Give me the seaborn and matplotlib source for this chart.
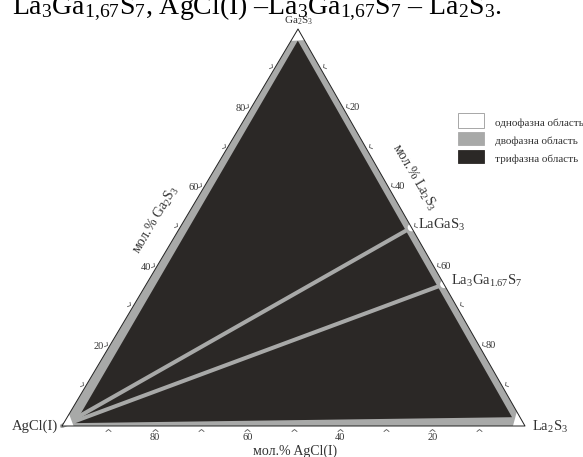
import numpy as np
import pandas as pd
import seaborn as sns
import matplotlib.pyplot as plt
from matplotlib.markers import MarkerStyle
from matplotlib.path import Path
from matplotlib.transforms import Affine2D
from matplotlib.patches import Rectangle

# compositions are mole fractions (AgCl(I), La2S3, Ga2S3)
corner_names = ["AgCl(I)", "La$_2$S$_3$", "Ga$_2$S$_3$"]
compound_names = ["LaGaS$_3$", "La$_3$Ga$_{1.67}$S$_7$"]
compound_la2s3 = [0.50, 0.643]          # on the Ga2S3 - La2S3 side

# three-phase field (black), corners
black_agcl = [0.974, 0.018, 0.018]
black_la2s3 = [0.016, 0.962, 0.020]
black_ga2s3 = [0.010, 0.020, 0.962]

# single-phase fields at the corners (white)
white_agcl = [(1, 0, 0), (0.975, 0.025, 0), (0.97, 0, 0.03)]
white_la2s3 = [(0, 1, 0), (0.026, 0.974, 0), (0, 0.964, 0.036)]
white_ga2s3 = [(0, 0, 1), (0.03, 0, 0.97), (0, 0.028, 0.972)]

tick_values = [10, 20, 30, 40, 50, 60, 70, 80, 90]
labelled_ticks = [20, 40, 60, 80]

legend_labels = ["однофазна область", "двофазна область", "трифазна область"]
title = "La$_3$Ga$_{1{,}67}$S$_7$, AgCl(I) –La$_3$Ga$_{1{,}67}$S$_7$ – La$_2$S$_3$."

BLACK = "#2b2826"
GRAY = "#a8a9a8"
TXT = "#333333"

sns.set_theme(style="white")
plt.rcParams["font.family"] = ["Liberation Serif", "DejaVu Serif"]
plt.rcParams["mathtext.fontset"] = "custom"
plt.rcParams["mathtext.rm"] = "Liberation Serif"
plt.rcParams["mathtext.it"] = "Liberation Serif"

# triangle corners in figure pixels
V = np.array([[62.0, 426.0], [525.0, 426.0], [298.0, 29.0]])
G = V.mean(axis=0)


def tern(comp):
    comp = np.asarray(comp, dtype=float)
    return comp @ V


def outward(p, q):
    d = q - p
    n = np.array([d[1], -d[0]])
    n /= np.linalg.norm(n)
    if np.dot((p + q) / 2 - G, n) < 0:
        n = -n
    return n


fig = plt.figure(figsize=(5.83, 4.57), dpi=100)
ax = fig.add_axes([0, 0, 1, 1])
ax.set_xlim(0, 583)
ax.set_ylim(457, 0)
ax.axis("off")

# whole triangle = two-phase grey
ax.fill(V[:, 0], V[:, 1], color=GRAY, lw=0, zorder=1)

# three-phase black field
blk = np.array([tern(black_agcl), tern(black_la2s3), tern(black_ga2s3)])
ax.fill(blk[:, 0], blk[:, 1], color=BLACK, lw=0, zorder=2)

# tie lines AgCl(I) - compounds (two-phase bands)
rows = []
for i, b in enumerate(compound_la2s3):
    for comp in [(1, 0, 0), (0, b, 1 - b)]:
        x, y = tern(comp)
        rows.append({"line": i, "x": x, "y": y})
ties = pd.DataFrame(rows)
sns.lineplot(data=ties, x="x", y="y", units="line", estimator=None, sort=False,
             color=GRAY, linewidth=2.9, legend=False, ax=ax, zorder=3)

# single-phase corners
for corner in [white_agcl, white_la2s3, white_ga2s3]:
    pts = np.array([tern(c) for c in corner])
    ax.fill(pts[:, 0], pts[:, 1], color="white", lw=0, zorder=4)

cpts = np.array([tern((0, b, 1 - b)) for b in compound_la2s3])
sns.scatterplot(x=cpts[:, 0], y=cpts[:, 1], s=30, color="white", edgecolor="none",
                ax=ax, zorder=5, legend=False)

# outline
ring = np.vstack([V, V[:1]])
ax.plot(ring[:, 0], ring[:, 1], color="#222222", lw=0.7, zorder=6)

# ticks and tick labels
chevron = Path([(-1.0, -0.8), (0.0, 0.0), (1.0, -0.8)])
edges = [
    # (start corner, end corner, value -> composition)
    (0, 1, lambda v: (v / 100, 1 - v / 100, 0)),    # AgCl(I) along bottom
    (0, 2, lambda v: (1 - v / 100, 0, v / 100)),    # Ga2S3 along left
    (2, 1, lambda v: (0, v / 100, 1 - v / 100)),    # La2S3 along right
]
for p, q, comp_of in edges:
    n = outward(V[p], V[q])
    inward_disp = np.array([-n[0], n[1]])           # display coords (y up)
    ang = np.degrees(np.arctan2(-inward_disp[0], inward_disp[1]))
    ms = MarkerStyle(chevron, transform=Affine2D().rotate_deg(ang))
    pos = np.array([tern(comp_of(v)) for v in tick_values]) + n * 3.0
    ax.plot(pos[:, 0], pos[:, 1], ls="none", marker=ms, markersize=4,
            markerfacecolor="none", markeredgecolor="#555555",
            markeredgewidth=0.6, zorder=6)
    for v in labelled_ticks:
        x, y = tern(comp_of(v))
        if p == 0 and q == 1:
            ax.text(x, y + 11, str(v), ha="center", va="center", fontsize=7.5, color=TXT)
        elif q == 2:
            ax.text(x - 5, y, str(v), ha="right", va="center", fontsize=7.5, color=TXT)
        else:
            ax.text(x + 6, y - 1, str(v), ha="left", va="center", fontsize=7.5, color=TXT)

# axis titles
edge_ang = np.degrees(np.arctan2(V[0, 1] - V[2, 1], V[2, 0] - V[0, 0]))
ax.text(295, 451, "мол.% AgCl(I)", ha="center", va="center", fontsize=10, color=TXT)
ax.text(156, 220, "мол.% Ga$_2$S$_3$", ha="center", va="center", fontsize=10,
        rotation=edge_ang, rotation_mode="anchor", color=TXT)
ax.text(414, 177, "мол.% La$_2$S$_3$", ha="center", va="center", fontsize=10,
        rotation=-edge_ang, rotation_mode="anchor", color=TXT)

# corner and compound labels
ax.text(V[0, 0] - 4, V[0, 1], corner_names[0], ha="right", va="center", fontsize=10.5, color=TXT)
ax.text(V[1, 0] + 7, V[1, 1] + 1, corner_names[1], ha="left", va="center", fontsize=10.5, color=TXT)
ax.text(V[2, 0] + 1, V[2, 1] - 8, corner_names[2], ha="center", va="center", fontsize=8, color=TXT)
for name, (x, y) in zip(compound_names, cpts):
    ax.text(x + 7, y - 3, name, ha="left", va="center", fontsize=10.5, color=TXT)

# legend
box_colors = ["white", GRAY, BLACK]
box_tops = [113, 132, 150]
box_heights = [15, 13, 13]
for lab, col, top, h in zip(legend_labels, box_colors, box_tops, box_heights):
    ax.add_patch(Rectangle((458, top), 26, h, facecolor=col,
                           edgecolor="#999999" if col == "white" else col, lw=0.6, zorder=6))
    ax.text(495, top + h / 2 + 3, lab, ha="left", va="center", fontsize=8, color=TXT)

# chart title, cut by the top edge as in the original scan
ax.text(12, 14, title, ha="left", va="baseline", fontsize=20, color="black", zorder=0)

fig.savefig("out.png", dpi=100)
